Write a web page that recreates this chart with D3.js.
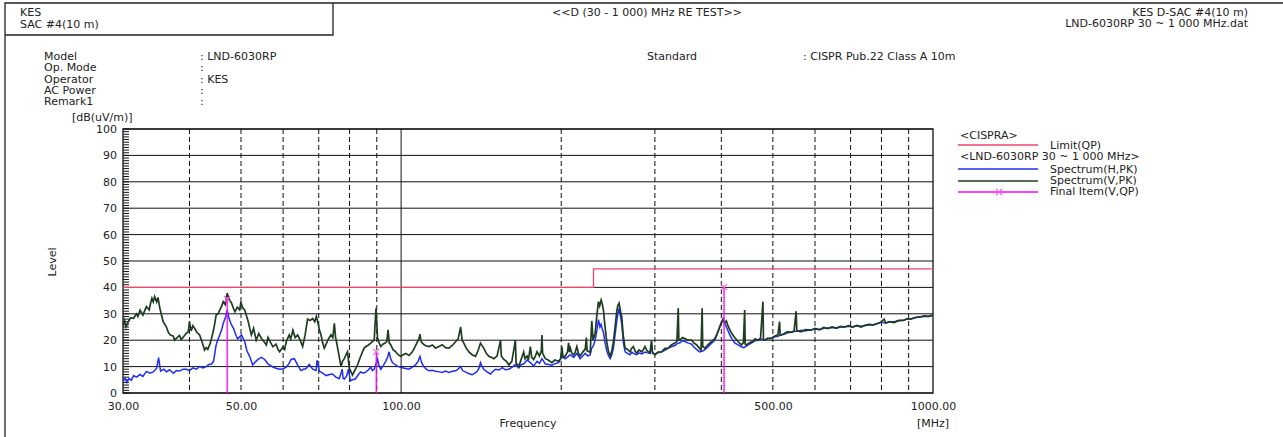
<!DOCTYPE html>
<html>
<head>
<meta charset="utf-8">
<script src="https://cdn.jsdelivr.net/npm/d3@7"></script>
<style>
  body { margin: 0; background: #fff; }
  svg { display: block; }
  text { font-family: "DejaVu Sans", sans-serif; font-size: 11px; fill: #222; }
</style>
</head>
<body>
<svg width="1283" height="437"></svg>
<script>
// horizontal peak spectrum, [MHz, dB(uV/m)]
const spectrumH = [
  [30.0,4.5],[30.3,5.6],[30.5,4],[30.8,5.5],[31.1,4.8],[31.4,6.6],[31.8,6],[32.3,7],[32.7,6.3],[33.2,8.2],
  [33.7,7.5],[34.2,8],[34.7,9.4],[35.0,13.4],[35.3,8.3],[35.8,9],[36.2,8],[36.7,8.8],[37.3,7.5],[37.8,8.5],
  [38.3,8.3],[38.9,9],[39.5,9],[40.0,8.5],[40.6,9.5],[41.2,9],[41.8,10],[42.4,9.5],[43.0,10],[43.5,10.8],
  [44.0,11],[44.4,12],[44.9,18.2],[45.2,20],[45.6,22],[46.0,24],[46.3,26.4],[46.8,28.9],[47.1,31.4],[47.4,28.9],
  [47.7,27],[48.0,25.8],[48.4,24.5],[48.7,23],[49.0,21.5],[49.3,20.5],[50.1,22],[50.8,19.5],[51.3,16],[51.9,13.9],
  [52.6,10.6],[53.2,11.8],[53.8,12.7],[54.6,13.5],[55.4,12.7],[56.2,11],[57.4,9.8],[58.2,9.4],[59.1,9],[60.0,9.2],
  [60.8,9.8],[61.5,11],[62.1,12.7],[63.0,13],[63.9,10.6],[64.8,8.5],[65.5,9],[66.2,9.2],[67.2,10.8],[68.2,9],
  [69.2,8.5],[69.5,12.4],[70.2,8.3],[71.2,7.5],[72.3,6.6],[73.3,7],[74.3,7.2],[75.4,6],[76.5,5.4],[77.5,9],
  [77.8,5.5],[78.2,5.3],[79.0,6.5],[79.6,9],[80.3,4.6],[81.0,5],[82.0,5.3],[83.0,6.8],[83.9,8],[84.9,7.5],
  [85.9,8],[86.8,8.8],[87.7,9.8],[88.3,8.5],[89.0,9],[90.3,12.8],[91.0,10],[91.6,9],[92.6,10.5],[93.6,12.1],
  [94.3,13.5],[94.9,15.6],[95.6,13],[96.3,11.5],[97.3,10.8],[98.4,10.2],[99.5,9.8],[100.5,9.6],[102.0,9.3],[103.5,9],
  [105.0,9.8],[106.6,10.8],[107.6,12],[108.5,13.9],[109.3,11.5],[110.3,10],[111.5,9],[112.8,8.4],[114.5,8.6],[116.1,8.2],
  [118.0,8],[119.5,7.8],[121.2,8.3],[123.0,7.8],[124.8,8.2],[126.6,8.4],[128.0,9],[129.4,10],[130.5,8.5],[132.6,7.8],
  [134.3,7.3],[136.0,6.9],[137.5,7.5],[139.0,8.2],[140.2,9.5],[141.0,11.5],[142.0,10],[143.0,9],[145.0,8],[147.3,7.2],
  [149.0,8.3],[150.5,9],[152.8,8.7],[155.0,9.6],[157.0,8.8],[159.4,9],[161.8,9.8],[164.0,10.8],[166.4,9.5],[168.3,10.8],
  [170.0,11],[172.5,12.5],[175.0,11.5],[177.5,10.2],[180.1,12],[182.0,11.2],[184.0,13],[186.7,11],[189.5,10.8],[192.1,10.5],
  [195.0,11.2],[197.8,11.5],[200.6,14],[203.5,13],[206.0,13.8],[208.0,14.5],[211.0,13.5],[214.0,15],[217.1,13],[219.5,14],
  [221.9,15],[224.5,14],[226.7,14.5],[228.3,17],[230.0,18],[231.6,20],[233.5,24],[235.0,27.8],[236.5,25],[237.7,26],
  [239.0,24],[240.1,23],[241.8,19],[243.6,16],[245.5,14],[247.2,13],[249.0,14.5],[250.7,17],[252.5,22],[254.3,27],
  [255.5,30],[256.9,32],[258.5,29],[259.9,26],[261.8,19],[263.7,15.6],[266.5,15],[269.4,14.5],[271.5,15.5],[273.3,15],
  [277.3,14.5],[280.0,15.2],[283.3,14.8],[287.4,15.5],[290.5,15.2],[293.7,15],[295.7,18],[297.0,15],[300.1,14.8],[304.0,15.2],
  [308.8,15.6],[313.0,16.2],[317.9,17],[322.0,17.5],[327.2,18],[331.0,18.8],[334.3,19],[338.0,19.8],[341.6,19.5],[346.0,19],
  [351.5,18.5],[355.0,17.5],[359.2,16.5],[364.0,15.6],[369.7,16],[373.0,16.5],[377.8,17.5],[383.0,18.8],[388.8,20],[393.0,22.5],
  [397.3,25],[400.5,27],[403.0,28.2],[405.5,26.5],[408.8,25],[412.0,23.5],[414.9,22],[419.0,20.5],[423.8,19],[429.9,18.2],
  [436.1,17.5],[441.0,17.2],[445.6,17.8],[452.0,18.5],[458.7,19.3],[463.0,19.8],[468.7,20],[475.0,20.5],[482.4,20],[489.0,20.5],
  [496.4,20.8],[503.0,21.2],[511.0,21.5],[518.0,22],[525.0,22.2],[533.0,22.8],[541.0,23],[549.0,23.3],[557.0,23.5],[566.0,23.8],
  [575.0,23.5],[590.0,24],[600.0,24.2],[612.0,24],[623.0,24.5],[634.0,24.6],[646.0,24.8],[658.0,24.5],[670.0,25],[681.0,25],
  [694.0,25.3],[706.0,25],[719.0,25.5],[732.0,25.3],[745.0,25.6],[758.0,25.8],[772.0,25.8],[786.0,26.3],[800.0,26.8],[815.0,26.5],
  [830.0,27],[845.0,27],[862.0,27.4],[880.0,27.6],[895.0,28],[908.0,28],[925.0,28.5],[943.0,28.8],[962.0,29],[980.0,29],
  [1000.0,29.5]
];

// vertical peak spectrum, [MHz, dB(uV/m)]
const spectrumV = [
  [30.0,25.5],[30.2,27.5],[30.4,25],[30.7,27],[31.0,28.5],[31.4,28.3],[31.8,30],[32.0,29],[32.3,31.4],[32.7,29.5],
  [33.0,31.5],[33.2,32.7],[33.6,31.5],[33.8,34],[34.0,35.9],[34.2,34.5],[34.4,36.5],[34.7,34.5],[34.9,36.2],[35.2,32],
  [35.5,29],[35.7,27],[36.2,25],[36.5,23],[36.8,22],[37.3,21.5],[37.5,20],[37.8,20.7],[38.3,21.8],[38.6,20.2],
  [38.9,21],[39.4,22.5],[39.8,23.2],[40.0,27],[40.3,23.5],[40.6,25.5],[40.9,24.5],[41.3,23],[41.8,22],[42.3,19],
  [42.7,16.3],[43.0,17.2],[43.3,16.5],[43.8,19],[44.3,23],[44.6,26],[44.9,29.5],[45.3,30],[45.6,31.4],[46.0,33],
  [46.3,34.6],[46.7,33.5],[47.1,37.8],[47.5,35.5],[48.0,34],[48.4,32],[48.7,30.8],[49.2,32.5],[49.7,31.5],[50.0,34.5],
  [50.3,32.4],[50.8,31.5],[51.5,27.6],[52.0,24],[52.3,22],[52.8,24.5],[53.4,20],[54.0,22.5],[54.6,20.7],[55.2,19.5],
  [55.8,18.2],[56.2,21],[56.6,19.8],[57.4,17.5],[58.2,18.5],[58.7,16.5],[59.1,15.6],[60.0,17.5],[60.4,16.5],[60.8,19.4],
  [61.6,22],[62.0,20.5],[62.6,23.8],[63.2,21],[63.9,22],[64.6,20],[65.3,17.6],[66.0,22],[66.7,28],[67.4,27.5],
  [68.2,28.2],[68.8,27],[69.3,29],[69.7,27],[70.2,24],[70.7,22],[71.2,19],[71.7,17],[72.3,18.5],[72.8,20],
  [73.3,21],[73.8,22],[74.4,21],[74.9,26.4],[75.3,21],[75.6,19.4],[76.3,15],[77.1,10],[77.6,12],[78.2,13],
  [78.8,14.5],[79.3,15.6],[79.9,9.4],[80.5,8],[81.0,6.8],[81.8,8.5],[82.8,10.6],[83.6,13],[84.6,15.6],[85.2,17],
  [85.9,17.6],[86.8,18.2],[87.7,18.9],[88.3,19.5],[89.0,20],[89.7,32.1],[90.3,20.8],[90.9,19],[91.6,17.6],[92.4,18.5],
  [93.3,18.9],[94.0,19.5],[94.5,23.9],[95.0,19],[95.6,18.3],[96.5,16.5],[97.7,15.6],[98.7,14.5],[99.8,13.9],[100.9,14.5],
  [102.0,15],[103.5,14.2],[105.0,15.6],[106.2,17.5],[107.3,19.4],[108.0,20.5],[108.5,22.3],[109.0,19.5],[109.6,18.9],[111.0,18],
  [112.8,17.6],[114.5,18.2],[116.1,17],[117.8,17.6],[119.5,18.3],[121.2,17.2],[123.0,17],[124.8,18],[126.6,19.4],[128.0,20.5],
  [129.4,25],[130.2,20],[131.2,18.9],[132.6,17],[134.1,15.6],[136.0,14.5],[138.0,13.9],[139.5,16],[141.0,18.9],[143.0,17],
  [144.6,15],[146.2,13.9],[147.8,13.5],[149.4,13],[151.5,14],[153.8,20],[154.3,14],[156.0,12.7],[157.8,12],[159.4,10.6],
  [161.5,12],[164.0,20],[164.5,11.5],[166.4,10],[168.0,12.5],[170.0,15.5],[171.0,13],[172.5,14],[173.5,12.5],[175.0,17.6],
  [176.0,13.5],[177.5,12.7],[178.8,14],[180.1,15.6],[182.0,14],[183.5,16],[184.0,22],[184.5,15],[186.7,13],[189.0,12.5],
  [192.1,11.5],[194.5,12.5],[197.8,12],[199.5,13],[200.6,17.6],[201.5,13.5],[203.5,14],[205.5,15.5],[206.5,19],[207.2,15.5],
  [208.0,17],[209.5,15],[211.0,14.4],[212.5,15.5],[214.0,17.6],[215.5,15],[217.1,14],[219.5,15.5],[221.9,16.6],[223.0,21],
  [223.7,16],[226.7,15.4],[228.3,27.3],[229.5,20],[231.6,22.6],[233.5,30],[235.0,34.6],[236.2,33],[237.7,35.2],[239.0,33.5],
  [240.1,31.4],[241.5,26],[243.6,19.4],[245.5,15.5],[247.2,14],[249.0,16],[250.7,19.4],[252.5,25],[254.3,30.8],[255.5,33],
  [256.9,34],[258.5,31],[259.9,28.9],[261.5,22],[263.7,17],[266.5,16.5],[269.4,15.6],[271.0,16.8],[273.3,17.6],[275.5,15.8],
  [277.3,15.1],[280.0,16.3],[283.3,15.6],[285.5,16.5],[287.4,17.6],[290.0,16],[293.7,15.1],[295.7,20],[296.8,15.5],[300.1,14.5],
  [304.0,15.5],[308.8,15.6],[313.0,16.8],[317.9,17],[322.0,18.2],[327.2,18.9],[330.0,19.5],[331.9,32.1],[332.8,20],[334.3,20],
  [338.0,21],[341.6,20.6],[346.0,20],[351.5,20],[355.0,19],[359.2,18.3],[363.0,17.2],[366.3,16.3],[368.1,32.1],[369.0,17.6],
  [372.8,17],[377.8,18.3],[383.0,19.5],[388.8,20.6],[393.0,22.5],[397.3,25.2],[400.0,26.5],[403.0,27.8],[405.5,26.5],[408.8,27.3],
  [411.5,25.5],[414.9,24],[418.5,22.5],[423.8,21],[429.9,19.5],[436.1,18.2],[440.0,19],[442.5,31.4],[443.5,18.5],[445.6,18.2],
  [452.0,19],[458.7,19.6],[463.0,20.5],[468.7,20],[474.0,20.8],[478.9,34.6],[480.0,20.5],[482.4,20],[489.0,20.8],[496.4,20.6],
  [503.0,21.5],[511.0,22],[514.7,27],[516.0,22],[518.2,22],[525.0,22.5],[533.0,23.2],[541.1,23],[548.0,23.5],[553.0,31],
  [554.5,23.5],[556.9,23.5],[565.0,23.2],[575.0,24],[589.9,23.8],[600.0,24.5],[612.0,24],[623.0,24.8],[634.0,24.4],[646.0,25],
  [658.0,24.6],[670.0,25.2],[681.5,25],[694.0,25.5],[706.0,25],[719.0,25.6],[732.0,25],[745.0,25.6],[758.0,26],[772.0,25.8],
  [786.6,26.3],[797.0,26.8],[809.5,28],[815.0,26.5],[828.0,27],[845.4,26.7],[862.0,27.5],[880.0,27.5],[895.0,28.2],[908.4,28],
  [925.0,28.6],[943.0,28.8],[962.4,29.2],[980.0,29],[1000.0,29.5]
];

// CISPR 22 class A limit (QP)
const limitFreq = [30, 230, 230, 1000];
const limitLevel = [40, 40, 47, 47];

// final measurement (V, QP)
const finalFreq = [47.1, 89.8, 404.7];
const finalLevel = [35.6, 15.6, 40.1];

const dashedFreqs = [40, 50, 60, 70, 80, 90, 200, 300, 400, 500, 600, 700, 800, 900];
const solidFreqs = [100];
const xTickValues = [30, 50, 100, 500, 1000];
const yTickValues = [0, 10, 20, 30, 40, 50, 60, 70, 80, 90, 100];

const infoLabels = ["Model", "Op. Mode", "Operator", "AC Power", "Remark1"];
const infoValues = [": LND-6030RP", ":", ": KES", ":", ":"];

const svg = d3.select("svg");
svg.append("rect").attr("width", 1283).attr("height", 437).attr("fill", "#fff");

const x = d3.scaleLog().domain([30, 1000]).range([123, 933]);
const y = d3.scaleLinear().domain([0, 100]).range([393, 129]);

// page frame and header box
svg.append("path")
  .attr("d", "M5,437 V3 H1283 M5,35 H333 V3")
  .attr("fill", "none")
  .attr("stroke", "#222")
  .attr("stroke-width", 1.3);

svg.append("text").attr("x", 20).attr("y", 16).text("KES");
svg.append("text").attr("x", 20).attr("y", 28).text("SAC #4(10 m)");
svg.append("text").attr("x", 552).attr("y", 16).text("<<D (30 - 1 000) MHz RE TEST>>");
svg.append("text").attr("x", 1248).attr("y", 16).attr("text-anchor", "end").text("KES D-SAC #4(10 m)");
svg.append("text").attr("x", 1248).attr("y", 27).attr("text-anchor", "end").text("LND-6030RP 30 ~ 1 000 MHz.dat");

const info = svg.append("g");
infoLabels.forEach((lbl, i) => {
  info.append("text").attr("x", 44).attr("y", 60 + i * 11.3).text(lbl);
  info.append("text").attr("x", 200).attr("y", 60 + i * 11.3).text(infoValues[i]);
});
svg.append("text").attr("x", 647).attr("y", 60).text("Standard");
svg.append("text").attr("x", 803).attr("y", 60).text(": CISPR Pub.22 Class A 10m");

// grid
const grid = svg.append("g");
grid.selectAll("line.h")
  .data(yTickValues)
  .enter()
  .append("line")
  .attr("x1", x(30)).attr("x2", x(1000))
  .attr("y1", d => y(d)).attr("y2", d => y(d))
  .attr("stroke", "#111");

grid.selectAll("line.vd")
  .data(dashedFreqs)
  .enter()
  .append("line")
  .attr("x1", d => x(d)).attr("x2", d => x(d))
  .attr("y1", y(100)).attr("y2", y(0))
  .attr("stroke", "#111")
  .attr("stroke-dasharray", "5,3");

grid.selectAll("line.vs")
  .data(solidFreqs)
  .enter()
  .append("line")
  .attr("x1", d => x(d)).attr("x2", d => x(d))
  .attr("y1", y(100)).attr("y2", y(0))
  .attr("stroke", "#111");

// minor y ticks, 1 dB
grid.selectAll("line.minor")
  .data(d3.range(0, 101))
  .enter()
  .append("line")
  .attr("x1", x(30)).attr("x2", x(30) + 6)
  .attr("y1", d => y(d)).attr("y2", d => y(d))
  .attr("stroke", "#111");

svg.append("rect")
  .attr("x", x(30)).attr("y", y(100))
  .attr("width", x(1000) - x(30)).attr("height", y(0) - y(100))
  .attr("fill", "none").attr("stroke", "#111").attr("stroke-width", 1.3);

// axes labels
const yAxis = d3.axisLeft(y).tickValues(yTickValues).tickSize(0).tickPadding(6);
svg.append("g").attr("transform", `translate(${x(30)},0)`).call(yAxis)
  .call(g => g.select(".domain").remove())
  .call(g => g.selectAll("text").style("font-size", "11px").attr("fill", "#222").style("font-family", "DejaVu Sans"));

const xAxis = d3.axisBottom(x).tickValues(xTickValues).tickSize(0).tickPadding(9).tickFormat(d3.format(".2f"));
svg.append("g").attr("transform", `translate(0,${y(0)})`).call(xAxis)
  .call(g => g.select(".domain").remove())
  .call(g => g.selectAll("text").style("font-size", "11px").attr("fill", "#222").style("font-family", "DejaVu Sans"));

svg.append("text").attr("x", 72).attr("y", 121).text("[dB(uV/m)]");
svg.append("text").attr("transform", "translate(56,262) rotate(-90)").attr("text-anchor", "middle").text("Level");
svg.append("text").attr("x", 528).attr("y", 427).attr("text-anchor", "middle").text("Frequency");
svg.append("text").attr("x", 933).attr("y", 427).attr("text-anchor", "middle").text("[MHz]");

// traces
const clip = svg.append("defs").append("clipPath").attr("id", "plot");
clip.append("rect").attr("x", x(30)).attr("y", y(100)).attr("width", x(1000) - x(30)).attr("height", y(0) - y(100));

const line = d3.line().x(d => x(d[0])).y(d => y(d[1]));
const plot = svg.append("g").attr("clip-path", "url(#plot)");

plot.append("path")
  .datum(limitFreq.map((f, i) => [f, limitLevel[i]]))
  .attr("d", line)
  .attr("fill", "none").attr("stroke", "#f0456b").attr("stroke-width", 1.3);

plot.append("path")
  .datum(spectrumH)
  .attr("d", line)
  .attr("fill", "none").attr("stroke", "#1f2ef5").attr("stroke-width", 1.5);

plot.append("path")
  .datum(spectrumV)
  .attr("d", line)
  .attr("fill", "none").attr("stroke", "#1e3d20").attr("stroke-width", 1.7);

const finals = plot.selectAll("g.final")
  .data(finalFreq)
  .enter()
  .append("g")
  .attr("class", "final");
finals.append("line")
  .attr("x1", d => x(d)).attr("x2", d => x(d))
  .attr("y1", y(0)).attr("y2", (d, i) => y(finalLevel[i]))
  .attr("stroke", "#ff00ff").attr("stroke-width", 1.3);
finals.append("path")
  .attr("d", (d, i) => {
    const cx = x(d), cy = y(finalLevel[i]);
    return `M${cx - 3},${cy - 3}L${cx + 3},${cy + 3}M${cx - 3},${cy + 3}L${cx + 3},${cy - 3}`;
  })
  .attr("stroke", "#f060e0").attr("stroke-width", 1.2);

// legend
const legend = svg.append("g");
legend.append("text").attr("x", 960).attr("y", 139).text("<CISPRA>");
legend.append("line").attr("x1", 958).attr("x2", 1038).attr("y1", 145).attr("y2", 145).attr("stroke", "#f0456b").attr("stroke-width", 1.3);
legend.append("text").attr("x", 1050).attr("y", 149).text("Limit(QP)");
legend.append("text").attr("x", 960).attr("y", 160).text("<LND-6030RP 30 ~ 1 000 MHz>");
legend.append("line").attr("x1", 958).attr("x2", 1038).attr("y1", 169).attr("y2", 169).attr("stroke", "#1f2ef5").attr("stroke-width", 1.3);
legend.append("text").attr("x", 1050).attr("y", 173).text("Spectrum(H,PK)");
legend.append("line").attr("x1", 958).attr("x2", 1038).attr("y1", 181).attr("y2", 181).attr("stroke", "#1e3d20").attr("stroke-width", 1.3);
legend.append("text").attr("x", 1050).attr("y", 184).text("Spectrum(V,PK)");
legend.append("line").attr("x1", 958).attr("x2", 1038).attr("y1", 192).attr("y2", 192).attr("stroke", "#ff00ff").attr("stroke-width", 1.3);
legend.append("path").attr("d", "M996,189L1002,195M996,195L1002,189").attr("stroke", "#f060e0").attr("stroke-width", 1.2);
legend.append("text").attr("x", 1050).attr("y", 195).text("Final Item(V,QP)");
</script>
</body>
</html>
